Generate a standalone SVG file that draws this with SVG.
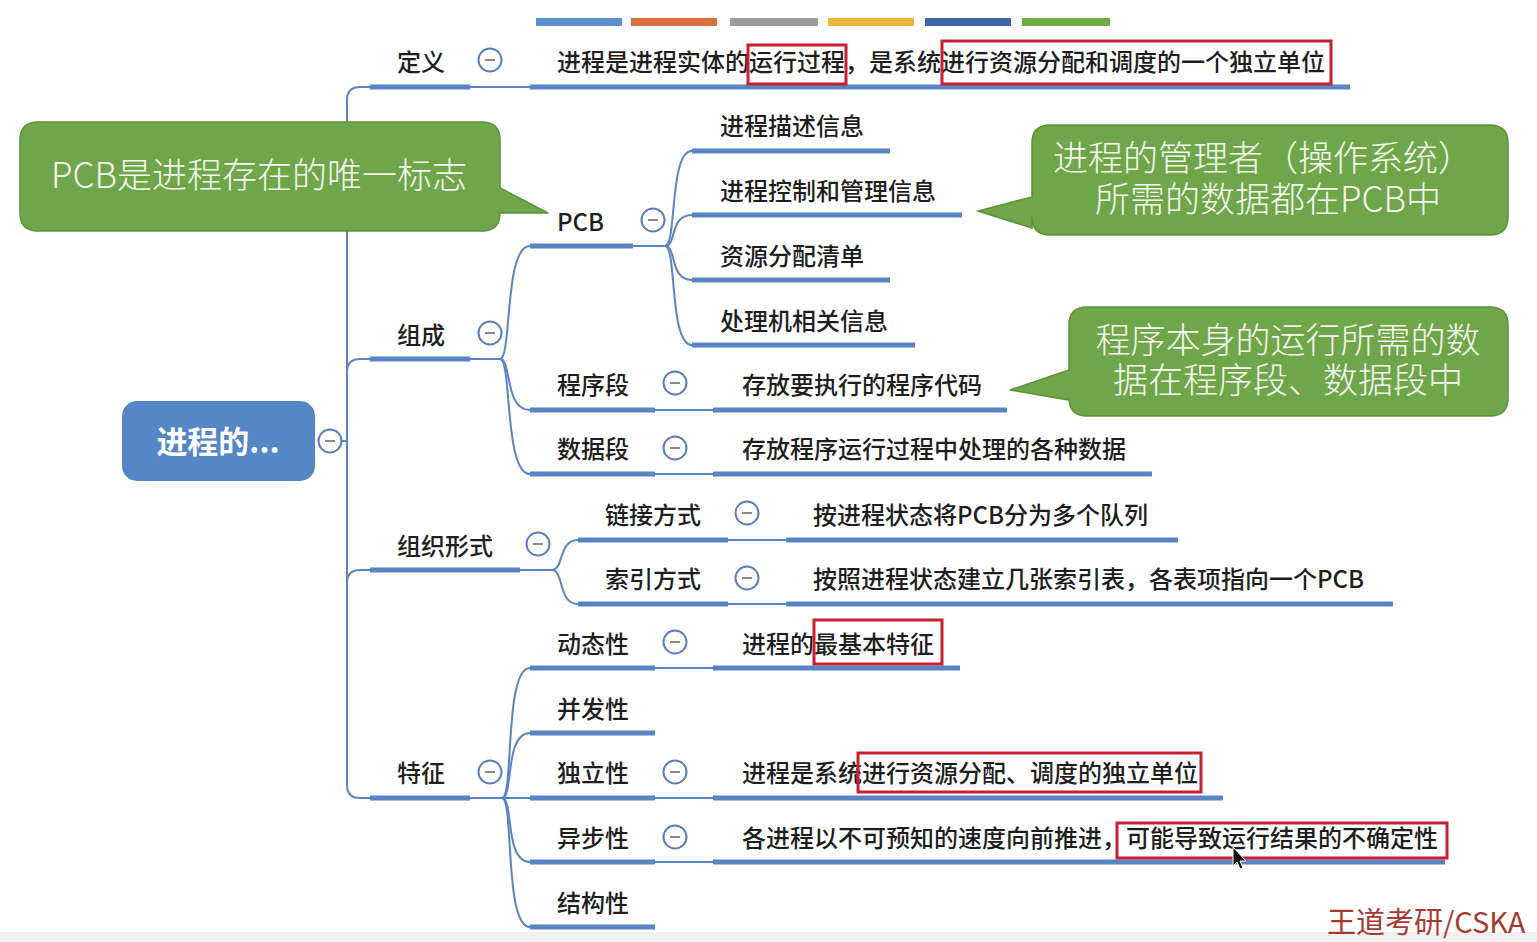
<svg xmlns="http://www.w3.org/2000/svg" width="1537" height="942" viewBox="0 0 1537 942">
<style>
.t{font-family:"Noto Sans CJK SC","Noto Sans",sans-serif;font-size:24px;font-weight:500;fill:#1e1e1e}
.ul{stroke:#5a84c3;stroke-width:5;fill:none}
.cn{stroke:#5a84c3;stroke-width:2;fill:none}
.red{fill:none;stroke:#c81e32;stroke-width:3}
.cb circle{fill:#fff;stroke:#5b7dbd;stroke-width:2}
.cb line{stroke:#8a8a8a;stroke-width:2}
.call{fill:#70a64a;stroke:#5f9139;stroke-width:1.5}
.ct{font-family:"Noto Sans CJK SC","Noto Sans",sans-serif;font-size:35px;font-weight:300;fill:#f5f9ef;text-anchor:middle}
</style>
<defs>
<g id="minus" class="cb"><circle r="11.5"/><line x1="-5" y1="0" x2="5" y2="0"/></g>
</defs>
<rect width="1537" height="942" fill="#fff"/>
<rect y="932" width="1537" height="10" fill="#f1f1f1"/>

<g id="colorbar">
<rect x="536" y="18" width="86" height="8" fill="#5b8fd0"/>
<rect x="631" y="18" width="86" height="8" fill="#d8703e"/>
<rect x="730" y="18" width="88" height="8" fill="#9b9b9b"/>
<rect x="828" y="18" width="86" height="8" fill="#eab63c"/>
<rect x="925" y="18" width="86" height="8" fill="#3e64ae"/>
<rect x="1022" y="18" width="88" height="8" fill="#6fab45"/>
</g>

<g id="connectors">
<path class="cn" d="M341,441 L347,441"/>
<path class="cn" d="M347,441 L347,100 Q347,87 360,87 L370,87"/>
<path class="cn" d="M347,441 L347,785 Q347,798 360,798 L370,798"/>
<path class="cn" d="M347,372 Q347,359 360,359 L370,359"/>
<path class="cn" d="M347,583 Q347,570 360,570 L370,570"/>
<path class="cn" d="M470,87 L530,87"/>
<path class="cn" d="M470,359 L500,359"/>
<path class="cn" d="M500,359 C512,359 504,246 530,246"/>
<path class="cn" d="M500,359 C512,359 504,410 530,410"/>
<path class="cn" d="M500,359 C512,359 504,474 530,474"/>
<path class="cn" d="M633,246 L665,246"/>
<path class="cn" d="M665,246 C677,246 669,151 692,151"/>
<path class="cn" d="M665,246 C677,246 669,215 692,215"/>
<path class="cn" d="M665,246 C677,246 669,280 692,280"/>
<path class="cn" d="M665,246 C677,246 669,345 692,345"/>
<path class="cn" d="M655,410 L713,410"/>
<path class="cn" d="M655,474 L713,474"/>
<path class="cn" d="M520,570 L552,570"/>
<path class="cn" d="M552,570 C564,570 558,540 578,540"/>
<path class="cn" d="M552,570 C564,570 558,604 578,604"/>
<path class="cn" d="M728,540 L786,540"/>
<path class="cn" d="M728,604 L786,604"/>
<path class="cn" d="M470,798 L502,798"/>
<path class="cn" d="M502,798 C514,798 504,668 530,668"/>
<path class="cn" d="M502,798 C514,798 504,733 530,733"/>
<path class="cn" d="M502,798 L530,798"/>
<path class="cn" d="M502,798 C514,798 504,862 530,862"/>
<path class="cn" d="M502,798 C514,798 504,927 530,927"/>
<path class="cn" d="M655,668 L713,668"/>
<path class="cn" d="M655,798 L713,798"/>
<path class="cn" d="M655,862 L713,862"/>
</g>

<g id="root">
<rect x="122" y="401" width="193" height="80" rx="15" fill="#5586c6"/>
<text x="218" y="453" font-family="Noto Sans CJK SC,sans-serif" font-size="31" font-weight="700" fill="#fff" text-anchor="middle">进程的...</text>
<use href="#minus" x="330" y="441"/>
</g>

<g id="n-dingyi">
<line class="ul" x1="370" y1="87" x2="470" y2="87"/>
<text class="t" x="397" y="71">定义</text>
<use href="#minus" x="490" y="60"/>
</g>
<g id="n-dingyi-def">
<line class="ul" x1="530" y1="87" x2="1350" y2="87"/>
<text class="t" x="557" y="71">进程是进程实体的运行过程，是系统进行资源分配和调度的一个独立单位</text>
<rect class="red" x="748" y="45" width="98" height="39"/>
<rect class="red" x="942" y="41" width="389" height="43"/>
</g>

<g id="n-zucheng">
<line class="ul" x1="370" y1="359" x2="470" y2="359"/>
<text class="t" x="397" y="344">组成</text>
<use href="#minus" x="490" y="333"/>
</g>
<g id="n-pcb">
<line class="ul" x1="530" y1="246" x2="633" y2="246"/>
<text class="t" x="557" y="231">PCB</text>
<use href="#minus" x="653" y="220"/>
</g>
<g id="n-pcb1">
<line class="ul" x1="692" y1="151" x2="890" y2="151"/>
<text class="t" x="720" y="135">进程描述信息</text>
</g>
<g id="n-pcb2">
<line class="ul" x1="692" y1="215" x2="962" y2="215"/>
<text class="t" x="720" y="200">进程控制和管理信息</text>
</g>
<g id="n-pcb3">
<line class="ul" x1="692" y1="280" x2="890" y2="280"/>
<text class="t" x="720" y="265">资源分配清单</text>
</g>
<g id="n-pcb4">
<line class="ul" x1="692" y1="345" x2="915" y2="345"/>
<text class="t" x="720" y="330">处理机相关信息</text>
</g>
<g id="n-code">
<line class="ul" x1="530" y1="410" x2="655" y2="410"/>
<text class="t" x="557" y="394">程序段</text>
<use href="#minus" x="675" y="383"/>
</g>
<g id="n-code-d">
<line class="ul" x1="713" y1="410" x2="1007" y2="410"/>
<text class="t" x="742" y="394">存放要执行的程序代码</text>
</g>
<g id="n-data">
<line class="ul" x1="530" y1="474" x2="655" y2="474"/>
<text class="t" x="557" y="458">数据段</text>
<use href="#minus" x="675" y="448"/>
</g>
<g id="n-data-d">
<line class="ul" x1="713" y1="474" x2="1152" y2="474"/>
<text class="t" x="742" y="458">存放程序运行过程中处理的各种数据</text>
</g>

<g id="n-org">
<line class="ul" x1="370" y1="570" x2="520" y2="570"/>
<text class="t" x="397" y="555">组织形式</text>
<use href="#minus" x="538" y="544"/>
</g>
<g id="n-link">
<line class="ul" x1="578" y1="540" x2="728" y2="540"/>
<text class="t" x="605" y="524">链接方式</text>
<use href="#minus" x="747" y="513"/>
</g>
<g id="n-link-d">
<line class="ul" x1="786" y1="540" x2="1178" y2="540"/>
<text class="t" x="813" y="524">按进程状态将PCB分为多个队列</text>
</g>
<g id="n-index">
<line class="ul" x1="578" y1="604" x2="728" y2="604"/>
<text class="t" x="605" y="588">索引方式</text>
<use href="#minus" x="747" y="578"/>
</g>
<g id="n-index-d">
<line class="ul" x1="786" y1="604" x2="1393" y2="604"/>
<text class="t" x="813" y="588">按照进程状态建立几张索引表，各表项指向一个PCB</text>
</g>

<g id="n-feat">
<line class="ul" x1="370" y1="798" x2="470" y2="798"/>
<text class="t" x="397" y="782">特征</text>
<use href="#minus" x="490" y="772"/>
</g>
<g id="n-dyn">
<line class="ul" x1="530" y1="668" x2="655" y2="668"/>
<text class="t" x="557" y="653">动态性</text>
<use href="#minus" x="675" y="642"/>
</g>
<g id="n-dyn-d">
<line class="ul" x1="713" y1="668" x2="960" y2="668"/>
<text class="t" x="742" y="653">进程的最基本特征</text>
<rect class="red" x="814" y="620" width="128" height="44"/>
</g>
<g id="n-conc">
<line class="ul" x1="530" y1="733" x2="655" y2="733"/>
<text class="t" x="557" y="718">并发性</text>
</g>
<g id="n-indep">
<line class="ul" x1="530" y1="798" x2="655" y2="798"/>
<text class="t" x="557" y="782">独立性</text>
<use href="#minus" x="675" y="772"/>
</g>
<g id="n-indep-d">
<line class="ul" x1="713" y1="798" x2="1223" y2="798"/>
<text class="t" x="742" y="782">进程是系统进行资源分配、调度的独立单位</text>
<rect class="red" x="858" y="753" width="343" height="39"/>
</g>
<g id="n-async">
<line class="ul" x1="530" y1="862" x2="655" y2="862"/>
<text class="t" x="557" y="847">异步性</text>
<use href="#minus" x="675" y="837"/>
</g>
<g id="n-async-d">
<line class="ul" x1="713" y1="862" x2="1445" y2="862"/>
<text class="t" x="742" y="847">各进程以不可预知的速度向前推进，可能导致运行结果的不确定性</text>
<rect class="red" x="1117" y="823" width="330" height="35"/>
</g>
<g id="n-struct">
<line class="ul" x1="530" y1="927" x2="655" y2="927"/>
<text class="t" x="557" y="912">结构性</text>
</g>

<g id="callout-pcb">
<path class="call" d="M38,122 H482 Q500,122 500,140 V188 L548,213 L500,213 V213 Q500,231 482,231 H38 Q20,231 20,213 V140 Q20,122 38,122 Z"/>
<text class="ct" x="259" y="188">PCB是进程存在的唯一标志</text>
</g>
<g id="callout-os">
<path class="call" d="M1050,125 H1490 Q1508,125 1508,143 V217 Q1508,235 1490,235 H1050 Q1032,235 1032,217 V228 L978,211 L1032,197 V143 Q1032,125 1050,125 Z"/>
<text class="ct"><tspan x="1263" y="171">进程的管理者（操作系统）</tspan><tspan x="1268" y="212">所需的数据都在PCB中</tspan></text>
</g>
<g id="callout-seg">
<path class="call" d="M1087,307 H1490 Q1508,307 1508,325 V398 Q1508,416 1490,416 H1087 Q1069,416 1069,398 V400 L1010,390 L1069,370 V325 Q1069,307 1087,307 Z"/>
<text class="ct"><tspan x="1288" y="353">程序本身的运行所需的数</tspan><tspan x="1288" y="393">据在程序段、数据段中</tspan></text>
</g>

<g id="watermark">
<text x="1327" y="933" font-family="Noto Sans CJK SC,sans-serif" font-size="29" fill="#a63a30">王道考研/CSKA</text>
</g>
<g id="cursor">
<path d="M1233,847 L1233,866 L1237,862 L1240,869 L1243,868 L1240,861 L1246,861 Z" fill="#111" stroke="#fff" stroke-width="1"/>
</g>
</svg>
